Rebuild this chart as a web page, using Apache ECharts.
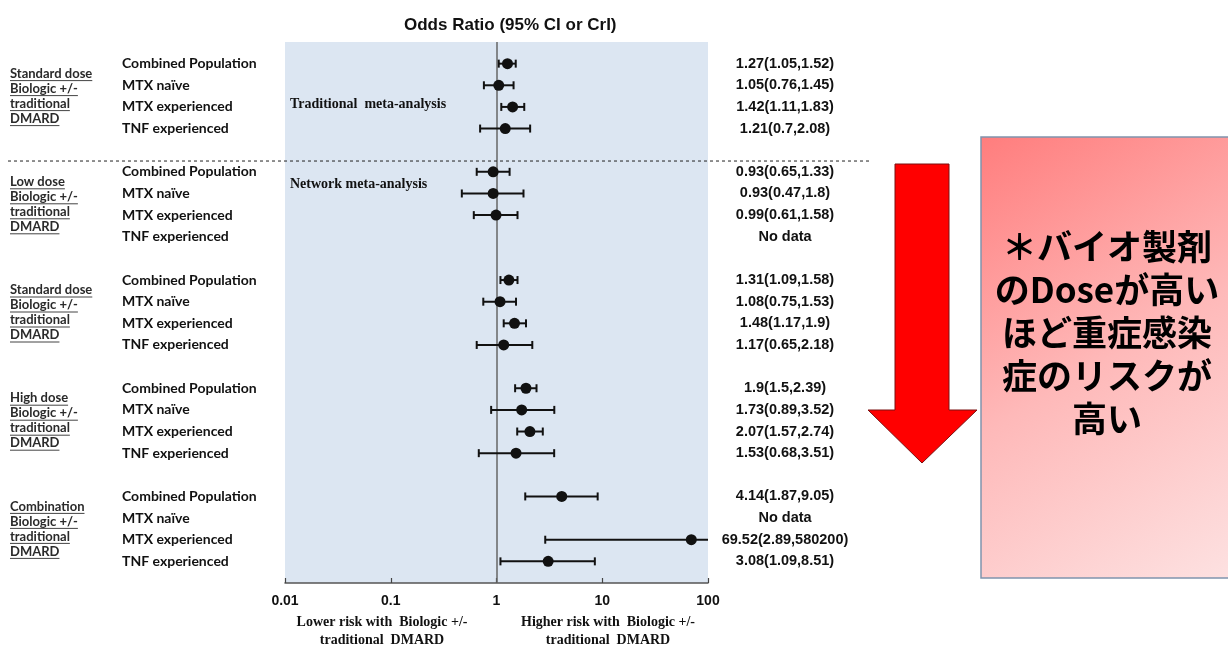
<!DOCTYPE html>
<html><head><meta charset="utf-8">
<script src="https://cdn.jsdelivr.net/npm/echarts@6/dist/echarts.min.js"></script>
<style>html,body{margin:0;padding:0;background:#fff}#c{width:1228px;height:648px}</style>
</head><body><div id="c"></div>
<script>
// ---- data ----
const groupLabels = [
  ['Standard dose', 'Biologic +/-', 'traditional', 'DMARD'],
  ['Low dose', 'Biologic +/-', 'traditional', 'DMARD'],
  ['Standard dose', 'Biologic +/-', 'traditional', 'DMARD'],
  ['High dose', 'Biologic +/-', 'traditional', 'DMARD'],
  ['Combination', 'Biologic +/-', 'traditional', 'DMARD']
];
const subgroups = ['Combined Population', 'MTX naïve', 'MTX experienced', 'TNF experienced'];
const oddsRatio = [
  [1.27, 1.05, 1.42, 1.21],
  [0.93, 0.93, 0.99, null],
  [1.31, 1.08, 1.48, 1.17],
  [1.9, 1.73, 2.07, 1.53],
  [4.14, null, 69.52, 3.08]
];
const ciLow = [
  [1.05, 0.76, 1.11, 0.7],
  [0.65, 0.47, 0.61, null],
  [1.09, 0.75, 1.17, 0.65],
  [1.5, 0.89, 1.57, 0.68],
  [1.87, null, 2.89, 1.09]
];
const ciHigh = [
  [1.52, 1.45, 1.83, 2.08],
  [1.33, 1.8, 1.58, null],
  [1.58, 1.53, 1.9, 2.18],
  [2.39, 3.52, 2.74, 3.51],
  [9.05, null, 580200, 8.51]
];
const xTickLabels = ['0.01', '0.1', '1', '10', '100'];
const titleText = 'Odds Ratio (95% CI or CrI)';
const noteText = '＊バイオ製剤\nのDoseが高い\nほど重症感染\n症のリスクが\n高い';

// ---- build ----
const ROWS_PER_GROUP = 5;
const leftRowLabels = {}, rightRowLabels = {};
const forestData = [];
groupLabels.forEach((g, gi) => {
  subgroups.forEach((s, si) => {
    const row = gi * ROWS_PER_GROUP + si;
    leftRowLabels[row] = s;
    const o = oddsRatio[gi][si];
    if (o == null) {
      rightRowLabels[row] = 'No data';
    } else {
      rightRowLabels[row] = o + '(' + ciLow[gi][si] + ',' + ciHigh[gi][si] + ')';
      forestData.push([o, row, ciLow[gi][si], ciHigh[gi][si]]);
    }
  });
});

const chart = echarts.init(document.getElementById('c'));
const INK = '#111';
const sansB = {fontFamily: 'Liberation Sans', fontWeight: 'bold', color: INK};
const labFont = 'Lato';

const yBase = {
  type: 'value', inverse: true, min: -1, max: 24, interval: 1,
  axisLine: {show: false}, axisTick: {show: false}, splitLine: {show: false}
};

const option = {
  animation: false,
  title: {
    text: titleText, left: 399, top: 12,
    textStyle: Object.assign({fontSize: 17}, sansB)
  },
  grid: {
    left: 285, right: 520, top: 42, bottom: 65,
    show: true, backgroundColor: '#dce6f2', borderWidth: 0
  },
  xAxis: {
    type: 'log', logBase: 10, min: 0.01, max: 100, position: 'bottom',
    splitLine: {show: false},
    axisLine: {onZero: false, lineStyle: {color: '#555', width: 1.5}},
    axisTick: {inside: true, length: 5, lineStyle: {color: '#444', width: 1.2}},
    axisLabel: Object.assign({
      fontSize: 14, margin: 11,
      formatter: v => {
        const i = Math.round(Math.log10(v)) + 2;
        return xTickLabels[i] || '';
      }
    }, sansB)
  },
  yAxis: [
    Object.assign({}, yBase, {
      position: 'left',
      axisLabel: {
        align: 'left', margin: 163, fontFamily: labFont, fontWeight: 'bold',
        fontSize: 14, color: INK,
        formatter: v => leftRowLabels[v] || ''
      }
    }),
    Object.assign({}, yBase, {
      position: 'right',
      axisLabel: Object.assign({
        align: 'center', margin: 77, fontSize: 14.5,
        formatter: v => rightRowLabels[v] || ''
      }, sansB)
    })
  ],
  series: [{
    type: 'custom',
    coordinateSystem: 'cartesian2d',
    xAxisIndex: 0, yAxisIndex: 0,
    encode: {x: 0, y: 1},
    data: forestData,
    renderItem: (params, api) => {
      const cs = params.coordSys;
      const row = api.value(1);
      const y = api.coord([1, row])[1];
      const xE = api.coord([api.value(0), row])[0];
      const xL = api.coord([api.value(2), row])[0];
      let xH = api.coord([api.value(3), row])[0];
      const right = cs.x + cs.width;
      const clipped = xH > right;
      if (clipped) xH = right;
      const st = {stroke: INK, lineWidth: 2};
      const ch = [
        {type: 'line', shape: {x1: xL, y1: y, x2: xH, y2: y}, style: st},
        {type: 'line', shape: {x1: xL, y1: y - 4, x2: xL, y2: y + 4}, style: st}
      ];
      if (!clipped) ch.push({type: 'line', shape: {x1: xH, y1: y - 4, x2: xH, y2: y + 4}, style: st});
      ch.push({type: 'circle', shape: {cx: xE, cy: y, r: 5.5}, style: {fill: INK}});
      return {type: 'group', children: ch};
    },
    markLine: {
      silent: true, symbol: 'none', label: {show: false},
      lineStyle: {color: '#666', width: 1.5, type: 'solid'},
      data: [{xAxis: 1}]
    },
    z: 5
  }]
};
chart.setOption(option);

// ---- decorations (positions from the chart's own scales) ----
const px = (x, r) => chart.convertToPixel({gridIndex: 0}, [x, r]);
const gridLeft = px(0.01, 0)[0];
const canvas = document.createElement('canvas');
const ctx = canvas.getContext('2d');
const gFont = 'bold 13px ' + labFont;
ctx.font = gFont;

const graphics = [];
groupLabels.forEach((lines, gi) => {
  const cy = px(1, gi * ROWS_PER_GROUP + 1.5)[1];
  lines.forEach((t, li) => {
    const y = cy + (li - 1.5) * 15;
    graphics.push({
      type: 'text', x: 10, y: y,
      style: {text: t, font: gFont, fill: '#2a2a2a', textAlign: 'left', textVerticalAlign: 'middle'}
    });
    const w = ctx.measureText(t).width;
    graphics.push({
      type: 'line', shape: {x1: 10, y1: y + 7, x2: 10 + w, y2: y + 7},
      style: {stroke: '#444', lineWidth: 1}
    });
  });
});

// dashed separator between traditional and network meta-analysis
const sepY = px(1, 4.5)[1];
graphics.push({
  type: 'line', shape: {x1: 8, y1: sepY, x2: 870, y2: sepY},
  style: {stroke: '#222', lineWidth: 1, lineDash: [3, 3]}, z: 10
});

const serifB = 'bold 14px "Liberation Serif"';
graphics.push({
  type: 'text', x: gridLeft + 5, y: px(1, 1.9)[1],
  style: {text: 'Traditional  meta-analysis', font: serifB, fill: INK, textVerticalAlign: 'middle'}, z: 10
});
graphics.push({
  type: 'text', x: gridLeft + 5, y: px(1, 5.6)[1],
  style: {text: 'Network meta-analysis', font: serifB, fill: INK, textVerticalAlign: 'middle'}, z: 10
});
graphics.push({
  type: 'text', x: 382, y: 631,
  style: {text: 'Lower risk with  Biologic +/-\ntraditional  DMARD', font: serifB, fill: INK,
          textAlign: 'center', textVerticalAlign: 'middle', lineHeight: 18}
});
graphics.push({
  type: 'text', x: 608, y: 631,
  style: {text: 'Higher risk with  Biologic +/-\ntraditional  DMARD', font: serifB, fill: INK,
          textAlign: 'center', textVerticalAlign: 'middle', lineHeight: 18}
});

// red arrow
graphics.push({
  type: 'polygon',
  shape: {points: [[895, 164], [949, 164], [949, 410], [977, 410], [922, 463], [868, 410], [895, 410]]},
  style: {fill: '#ff0000', stroke: '#7a1010', lineWidth: 1}
});
// note box
graphics.push({
  type: 'rect', shape: {x: 981, y: 137, width: 260, height: 441},
  style: {
    fill: new echarts.graphic.LinearGradient(0, 0, 1, 1, [
      {offset: 0, color: '#ff7d7d'}, {offset: 0.5, color: '#feb9b9'}, {offset: 1, color: '#fde2e2'}
    ]),
    stroke: '#8094ad', lineWidth: 1.5
  }
});
graphics.push({
  type: 'text', x: 1107, y: 333,
  style: {text: noteText, font: 'bold 35px "Noto Sans CJK JP"', fill: '#000',
          textAlign: 'center', textVerticalAlign: 'middle', lineHeight: 43}
});

chart.setOption({graphic: graphics});
</script>
</body></html>
